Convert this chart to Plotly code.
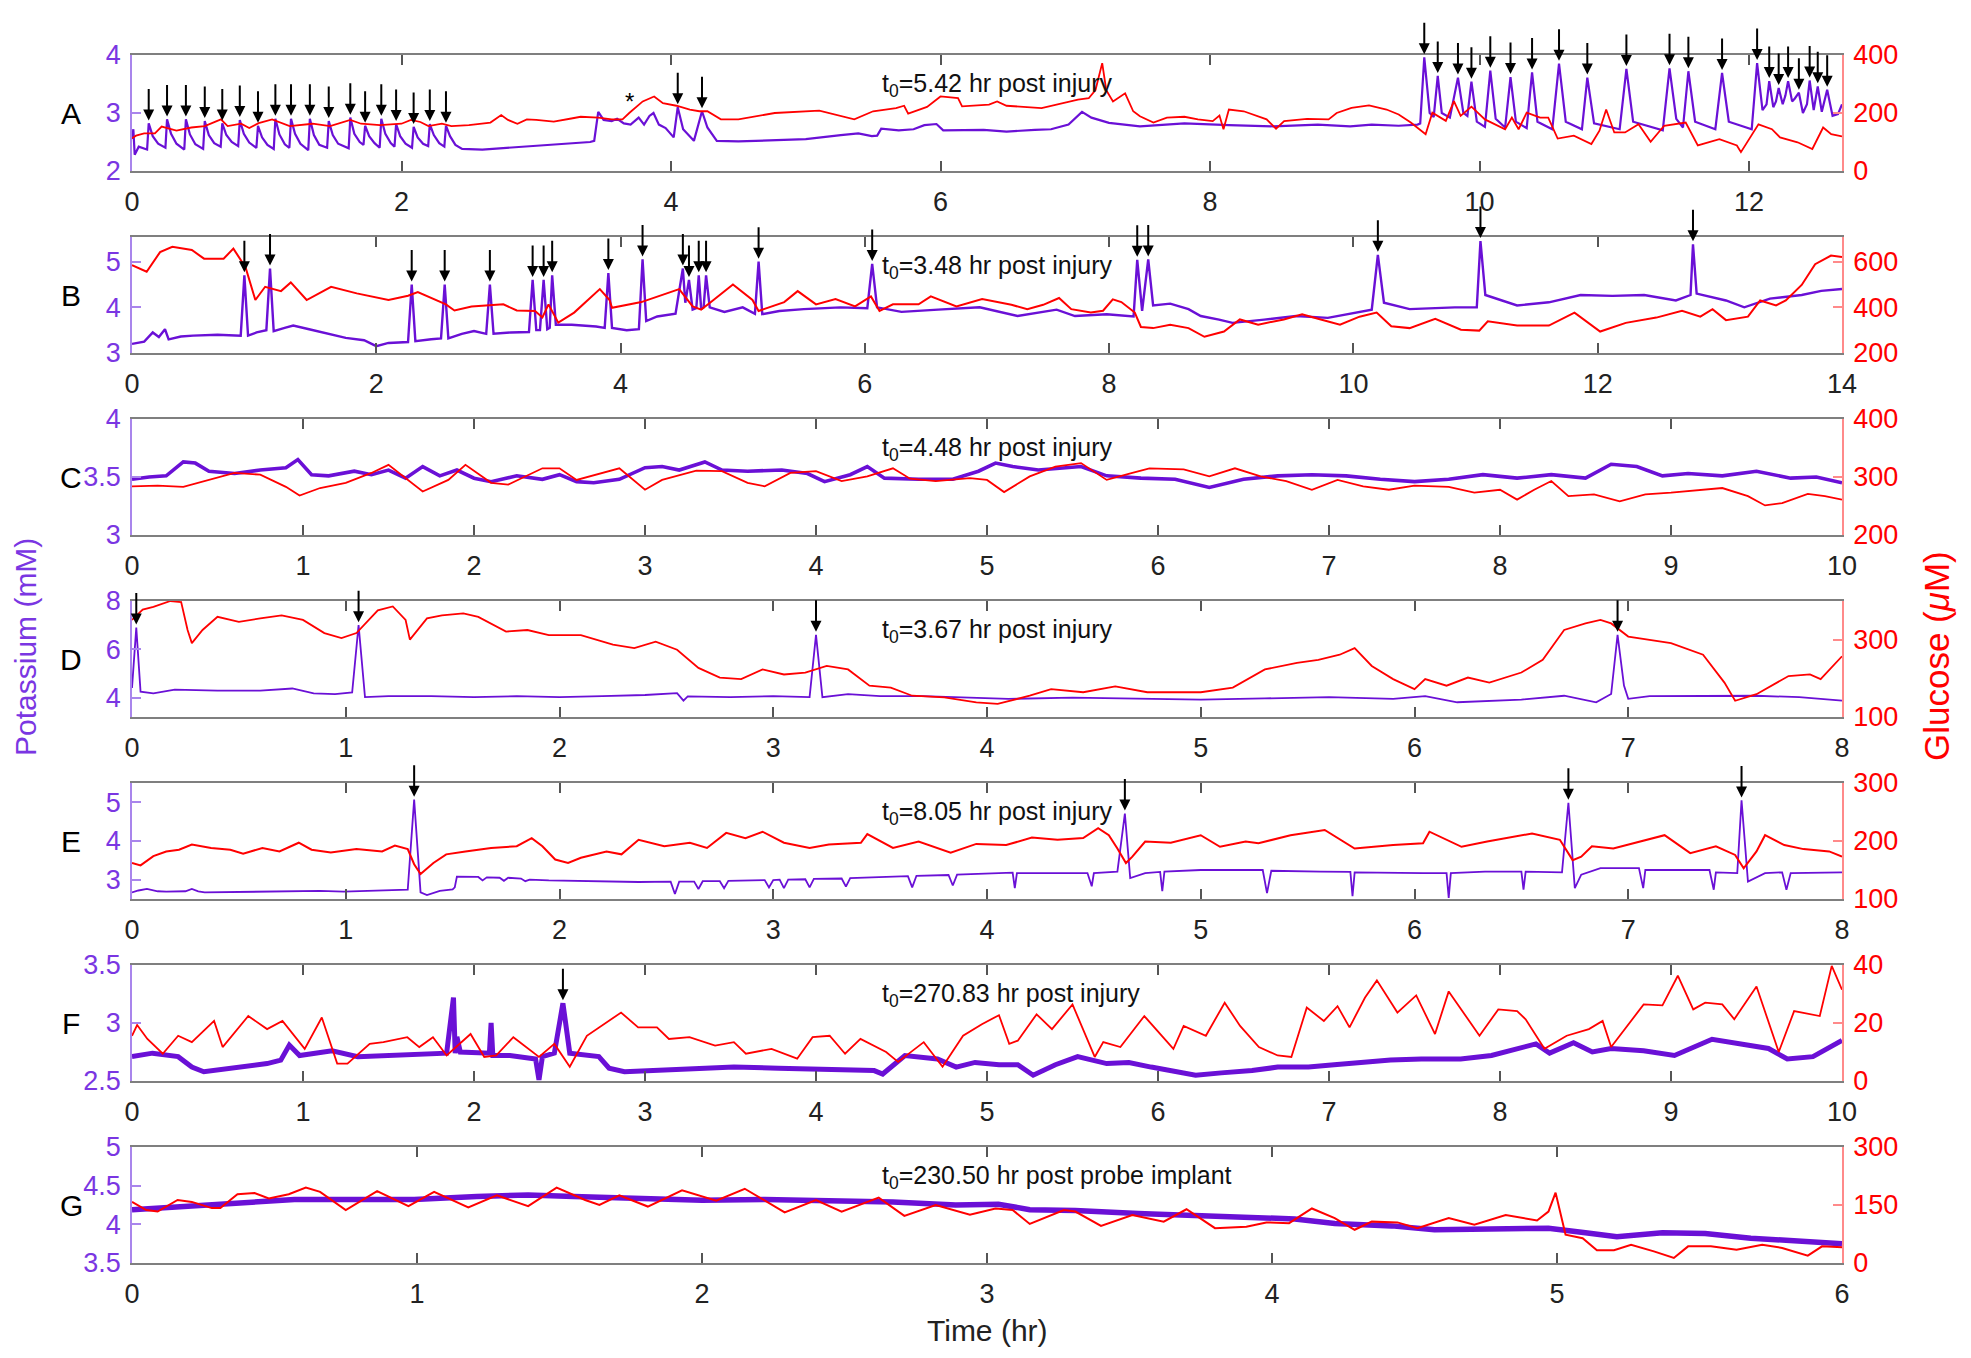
import plotly.graph_objects as go

# ---------------- DATA (hours, potassium mM, glucose uM) ----------------
# Panel A
tA_k = [0.00, 0.01, 0.02, 0.05, 0.10,
        0.112, 0.124, 0.154, 0.194, 0.248, 0.26, 0.29, 0.33,
        0.388, 0.40, 0.43, 0.47, 0.528, 0.54, 0.57, 0.61,
        0.658, 0.67, 0.70, 0.74, 0.788, 0.80, 0.83, 0.87,
        0.923, 0.935, 0.965, 1.005, 1.052, 1.064, 1.094, 1.134,
        1.168, 1.18, 1.21, 1.25, 1.308, 1.32, 1.35, 1.39,
        1.448, 1.46, 1.49, 1.53, 1.608, 1.62, 1.65, 1.69,
        1.718, 1.73, 1.76, 1.80, 1.838, 1.85, 1.88, 1.92,
        1.948, 1.96, 1.99, 2.03, 2.078, 2.09, 2.12, 2.16,
        2.198, 2.21, 2.24, 2.28, 2.318, 2.33, 2.36, 2.40,
        2.45, 2.6, 2.8, 3.0, 3.2, 3.4, 3.43, 3.46, 3.50, 3.56,
        3.60, 3.65, 3.70, 3.76, 3.80, 3.84, 3.87, 3.91, 3.96, 4.02,
        4.05, 4.09, 4.17, 4.23, 4.27, 4.34, 4.5, 4.83, 5.0, 5.26,
        5.39, 5.49, 5.53, 5.56, 5.69, 5.8, 5.88, 5.97, 6.02, 6.32,
        6.49, 6.7, 6.82, 6.95, 7.05, 7.12, 7.25, 7.48, 7.81, 8.14,
        8.47, 8.8, 9.04, 9.2, 9.4, 9.54,
        9.56, 9.59, 9.63, 9.66, 9.69, 9.72, 9.78, 9.84, 9.88, 9.91,
        9.94, 9.98, 10.04, 10.08, 10.12, 10.19, 10.23, 10.27, 10.35, 10.39,
        10.43, 10.54, 10.59, 10.64, 10.76, 10.80, 10.85, 11.04, 11.09, 11.14,
        11.36, 11.41, 11.46, 11.51, 11.55, 11.6, 11.75, 11.80, 11.85, 12.02,
        12.06, 12.10, 12.13, 12.15, 12.18, 12.20, 12.22, 12.25, 12.27, 12.29,
        12.32, 12.34, 12.37, 12.40, 12.43, 12.45, 12.48, 12.51, 12.54, 12.58,
        12.62, 12.66, 12.69]
A_k = [2.55, 2.72, 2.28, 2.42, 2.38,
       2.37, 2.82, 2.60, 2.47, 2.40, 2.89, 2.64, 2.47,
       2.37, 2.89, 2.63, 2.46, 2.38, 2.86, 2.62, 2.48,
       2.42, 2.82, 2.62, 2.50, 2.43, 2.88, 2.64, 2.49,
       2.40, 2.78, 2.58, 2.45, 2.38, 2.90, 2.63, 2.46,
       2.40, 2.90, 2.64, 2.47, 2.36, 2.90, 2.62, 2.45,
       2.40, 2.86, 2.62, 2.47, 2.39, 2.92, 2.64, 2.50,
       2.45, 2.78, 2.60, 2.48, 2.40, 2.90, 2.64, 2.48,
       2.42, 2.81, 2.60, 2.47, 2.40, 2.76, 2.58, 2.47,
       2.43, 2.81, 2.62, 2.48, 2.42, 2.78, 2.60, 2.45,
       2.38, 2.37, 2.40, 2.43, 2.46, 2.50, 2.52, 3.02, 2.88, 2.86,
       2.90, 2.82, 2.80, 2.92, 2.80, 2.95, 3.00, 2.80, 2.74, 2.58,
       3.10, 2.72, 2.52, 3.03, 2.75, 2.52, 2.51, 2.54, 2.55, 2.62,
       2.65, 2.60, 2.61, 2.73, 2.70, 2.72, 2.79, 2.81, 2.70, 2.71,
       2.68, 2.71, 2.72, 2.80, 3.02, 2.92, 2.83, 2.77, 2.82, 2.79,
       2.77, 2.80, 2.77, 2.80, 2.78, 2.80,
       2.82, 3.96, 3.00, 2.93, 3.64, 3.00, 2.92, 3.61, 3.00, 2.95,
       3.54, 2.85, 2.76, 3.73, 2.90, 2.75, 3.62, 2.85, 2.74, 3.70,
       2.85, 2.72, 3.85, 2.85, 2.72, 3.61, 2.82, 2.72, 3.76, 2.85,
       2.70, 3.77, 2.90, 2.75, 3.72, 2.85, 2.72, 3.69, 2.85, 2.72,
       3.86, 3.05, 3.15, 3.55, 3.10, 3.20, 3.43, 3.15, 3.30, 3.55,
       3.20, 3.25, 3.35, 3.00, 3.15, 3.56, 3.05, 3.46, 3.02, 3.40,
       2.95, 2.98, 3.15]
tA_g = [0.00, 0.03, 0.09, 0.17, 0.22, 0.33, 0.44, 0.54, 0.66, 0.71,
        0.81, 0.87, 0.94, 1.04, 1.17, 1.34, 1.47, 1.62, 1.70, 1.84,
        2.00, 2.07, 2.14, 2.20, 2.30, 2.37, 2.50, 2.66, 2.74, 2.79,
        2.86, 2.93, 3.00, 3.13, 3.26, 3.33, 3.46, 3.56, 3.64, 3.69,
        3.79, 3.875, 3.94, 4.04, 4.14, 4.21, 4.27, 4.37, 4.50, 4.77,
        5.10, 5.36, 5.50, 5.67, 5.73, 5.76, 5.90, 6.00, 6.13, 6.16,
        6.36, 6.42, 6.49, 6.75, 7.02, 7.10, 7.15, 7.20, 7.23, 7.28,
        7.37, 7.43, 7.48, 7.58, 7.68, 7.81, 7.91, 8.02, 8.07, 8.10,
        8.14, 8.25, 8.42, 8.49, 8.55, 8.72, 8.88, 8.94, 9.05, 9.18,
        9.31, 9.40, 9.49, 9.60, 9.65, 9.75, 9.81, 9.86, 9.94, 10.04,
        10.19, 10.24, 10.29, 10.35, 10.45, 10.51, 10.58, 10.70, 10.83, 10.89,
        10.94, 11.00, 11.08, 11.18, 11.27, 11.37, 11.53, 11.62, 11.78, 11.91,
        11.94, 11.97, 12.07, 12.17, 12.23, 12.36, 12.47, 12.55, 12.61, 12.69]
A_g = [113, 122, 130, 130, 153, 139, 150, 155, 178, 155,
       163, 148, 165, 178, 155, 163, 155, 176, 163, 158,
       163, 176, 169, 155, 163, 155, 158, 167, 193, 176,
       163, 178, 176, 170, 181, 187, 184, 178, 178, 200,
       240, 257, 234, 225, 212, 206, 206, 178, 178, 200,
       208, 178, 206, 217, 225, 198, 221, 257, 251, 223,
       229, 240, 225, 217, 246, 251, 279, 372, 279, 240,
       268, 206, 189, 167, 184, 187, 178, 172, 191, 144,
       212, 206, 178, 146, 172, 180, 178, 200, 218, 226,
       212, 195, 167, 127, 201, 173, 241, 190, 222, 178,
       144, 184, 144, 201, 184, 184, 112, 122, 93, 139,
       212, 133, 133, 161, 101, 156, 167, 88, 110, 88,
       65, 88, 161, 144, 116, 99, 76, 150, 127, 119]
A_arrows = [0.124, 0.26, 0.40, 0.54, 0.67, 0.80, 0.935, 1.064, 1.18, 1.32,
            1.46, 1.62, 1.73, 1.85, 1.96, 2.09, 2.21, 2.33, 4.05, 4.23,
            9.59, 9.69, 9.84, 9.94, 10.08, 10.23, 10.39, 10.59, 10.80, 11.09,
            11.41, 11.55, 11.80, 12.06, 12.15, 12.22, 12.29, 12.37, 12.45, 12.51, 12.58]

# Panel B
tB_k = [0.00, 0.10, 0.17, 0.22, 0.27, 0.30, 0.40, 0.50, 0.70, 0.89,
        0.92, 0.95, 1.02, 1.10, 1.13, 1.16, 1.25, 1.32, 1.45, 1.60,
        1.75, 1.90, 2.00, 2.10, 2.26, 2.29, 2.32, 2.45, 2.53, 2.56,
        2.59, 2.70, 2.80, 2.90, 2.93, 2.96, 3.10, 3.25, 3.28, 3.31,
        3.34, 3.37, 3.40, 3.42, 3.44, 3.47, 3.60, 3.80, 3.87, 3.90,
        3.93, 4.05, 4.15, 4.18, 4.21, 4.30, 4.45, 4.51, 4.53, 4.56,
        4.59, 4.62, 4.64, 4.66, 4.68, 4.70, 4.73, 4.85, 5.00, 5.10,
        5.13, 5.16, 5.30, 5.50, 5.80, 6.02, 6.06, 6.10, 6.30, 6.60,
        6.94, 7.25, 7.57, 7.72, 7.98, 8.20, 8.23, 8.27, 8.32, 8.36,
        8.50, 8.65, 8.75, 8.90, 9.01, 9.27, 9.53, 9.79, 10.15, 10.20,
        10.25, 10.46, 10.83, 11.01, 11.04, 11.08, 11.34, 11.60, 11.86, 12.12,
        12.38, 12.64, 12.76, 12.78, 12.81, 13.05, 13.20, 13.41, 13.67, 13.83,
        14.00]
B_k = [3.20, 3.25, 3.45, 3.35, 3.52, 3.30, 3.36, 3.38, 3.40, 3.38,
       4.70, 3.38, 3.45, 3.50, 4.85, 3.48, 3.55, 3.60, 3.52, 3.42,
       3.33, 3.28, 3.15, 3.22, 3.24, 4.50, 3.26, 3.30, 3.32, 4.50,
       3.32, 3.42, 3.48, 3.42, 4.50, 3.42, 3.45, 3.46, 4.60, 3.50,
       3.50, 4.60, 3.52, 3.55, 4.70, 3.62, 3.62, 3.58, 3.55, 4.75,
       3.55, 3.50, 3.52, 5.05, 3.70, 3.80, 3.86, 4.85, 4.10, 4.60,
       3.95, 3.98, 4.70, 3.96, 4.00, 4.70, 4.00, 3.90, 4.00, 3.86,
       5.00, 3.85, 3.92, 3.96, 4.00, 3.98, 4.95, 4.00, 3.90, 3.95,
       4.00, 3.81, 3.95, 3.81, 3.85, 3.80, 5.04, 3.92, 5.05, 4.04,
       4.08, 3.96, 3.81, 3.73, 3.66, 3.73, 3.81, 3.77, 3.95, 5.15,
       4.10, 3.96, 4.00, 4.00, 5.45, 4.27, 4.04, 4.11, 4.27, 4.25,
       4.27, 4.15, 4.27, 5.38, 4.30, 4.15, 4.00, 4.19, 4.27, 4.36,
       4.40]
tB_g = [0.00, 0.12, 0.23, 0.33, 0.49, 0.59, 0.75, 0.83, 0.93, 1.01,
        1.09, 1.22, 1.30, 1.43, 1.63, 1.84, 2.10, 2.26, 2.34, 2.57,
        2.64, 2.78, 3.04, 3.15, 3.30, 3.36, 3.41, 3.49, 3.62, 3.83,
        3.91, 3.93, 4.17, 4.38, 4.48, 4.59, 4.66, 4.74, 4.92, 5.08,
        5.13, 5.34, 5.45, 5.60, 5.76, 5.92, 6.05, 6.12, 6.23, 6.44,
        6.54, 6.75, 6.96, 7.20, 7.33, 7.46, 7.59, 7.69, 7.85, 7.95,
        8.03, 8.10, 8.21, 8.26, 8.36, 8.50, 8.65, 8.78, 8.94, 9.07,
        9.22, 9.43, 9.58, 9.71, 9.89, 10.05, 10.19, 10.31, 10.46, 10.67,
        10.88, 11.03, 11.10, 11.34, 11.60, 11.81, 12.02, 12.23, 12.48, 12.69,
        12.84, 12.94, 13.05, 13.23, 13.33, 13.46, 13.54, 13.67, 13.78, 13.91,
        14.00]
B_g = [585, 556, 642, 665, 651, 613, 613, 657, 575, 432,
       490, 471, 509, 432, 490, 461, 432, 451, 467, 413,
       386, 404, 413, 386, 384, 356, 413, 333, 377, 480,
       432, 398, 423, 461, 480, 404, 390, 423, 500, 432,
       384, 423, 471, 413, 436, 404, 448, 384, 413, 413,
       448, 404, 436, 411, 392, 411, 441, 392, 377, 385,
       435, 423, 377, 314, 309, 324, 309, 271, 294, 347,
       324, 347, 370, 350, 324, 359, 377, 317, 309, 350,
       302, 298, 339, 320, 320, 377, 294, 332, 355, 385,
       359, 392, 344, 359, 430, 408, 430, 498, 589, 627,
       620]
B_arrows = [0.92, 1.13, 2.29, 2.56, 2.93, 3.28, 3.37, 3.44, 3.90, 4.18,
            4.51, 4.56, 4.64, 4.70, 5.13, 6.06, 8.23, 8.32, 10.20, 11.04, 12.78]

# Panel C
tC_k = [0.00, 0.10, 0.20, 0.30, 0.37, 0.45, 0.60, 0.75, 0.90, 0.97,
        1.05, 1.15, 1.30, 1.40, 1.50, 1.60, 1.70, 1.80, 1.90, 2.00,
        2.10, 2.25, 2.40, 2.50, 2.60, 2.70, 2.85, 3.00, 3.10, 3.20,
        3.35, 3.45, 3.60, 3.80, 3.95, 4.05, 4.20, 4.30, 4.40, 4.60,
        4.80, 4.95, 5.05, 5.15, 5.30, 5.45, 5.55, 5.70, 5.90, 6.10,
        6.30, 6.50, 6.70, 6.90, 7.10, 7.30, 7.50, 7.70, 7.90, 8.10,
        8.30, 8.50, 8.65, 8.80, 8.95, 9.10, 9.30, 9.50, 9.70, 9.85,
        10.00]
C_k = [3.48, 3.50, 3.51, 3.63, 3.62, 3.55, 3.53, 3.56, 3.58, 3.65,
       3.52, 3.51, 3.55, 3.52, 3.56, 3.49, 3.59, 3.51, 3.56, 3.49,
       3.46, 3.51, 3.48, 3.52, 3.46, 3.45, 3.48, 3.58, 3.59, 3.56,
       3.63, 3.56, 3.55, 3.56, 3.53, 3.46, 3.52, 3.59, 3.49, 3.48,
       3.48, 3.55, 3.62, 3.59, 3.56, 3.58, 3.59, 3.51, 3.49, 3.48,
       3.41, 3.48, 3.51, 3.52, 3.51, 3.48, 3.46, 3.48, 3.52, 3.49,
       3.52, 3.49, 3.61, 3.59, 3.51, 3.53, 3.51, 3.55, 3.49, 3.50,
       3.45]
tC_g = [0.00, 0.15, 0.30, 0.45, 0.60, 0.75, 0.90, 0.98, 1.10, 1.25,
        1.40, 1.50, 1.60, 1.70, 1.85, 1.95, 2.10, 2.20, 2.40, 2.50,
        2.60, 2.75, 2.85, 3.00, 3.10, 3.30, 3.45, 3.60, 3.70, 3.85,
        4.00, 4.15, 4.30, 4.45, 4.55, 4.70, 4.90, 5.00, 5.10, 5.25,
        5.40, 5.55, 5.70, 5.85, 5.95, 6.15, 6.30, 6.45, 6.60, 6.75,
        6.90, 7.05, 7.20, 7.35, 7.50, 7.70, 7.85, 8.00, 8.10, 8.20,
        8.30, 8.40, 8.55, 8.70, 8.85, 9.00, 9.15, 9.30, 9.45, 9.55,
        9.65, 9.80, 9.90, 10.00]
C_g = [284, 285, 283, 295, 307, 304, 283, 268, 281, 290,
       307, 321, 298, 275, 295, 321, 290, 287, 315, 315,
       295, 307, 315, 278, 295, 311, 310, 290, 284, 307,
       310, 293, 301, 315, 297, 293, 298, 295, 274, 301,
       318, 324, 295, 307, 315, 313, 301, 315, 301, 293,
       278, 295, 284, 278, 285, 283, 273, 278, 261, 278,
       293, 267, 270, 258, 270, 273, 277, 281, 267, 251,
       255, 271, 267, 261]

# Panel D
tD_k = [0.00, 0.02, 0.04, 0.10, 0.20, 0.40, 0.60, 0.75, 0.85, 0.95,
        1.03, 1.06, 1.09, 1.20, 1.40, 1.60, 1.80, 2.00, 2.20, 2.40,
        2.55, 2.58, 2.60, 2.80, 3.00, 3.17, 3.20, 3.23, 3.35, 3.50,
        3.70, 3.90, 4.10, 4.40, 4.70, 5.00, 5.30, 5.60, 5.90, 6.05,
        6.20, 6.50, 6.70, 6.85, 6.92, 6.95, 6.98, 7.00, 7.10, 7.30,
        7.60, 7.80, 8.00]
D_k = [4.40, 6.90, 4.25, 4.18, 4.33, 4.29, 4.29, 4.38, 4.18, 4.15,
       4.22, 7.00, 4.02, 4.06, 4.06, 4.02, 4.06, 4.02, 4.06, 4.11,
       4.19, 3.88, 4.05, 4.02, 4.06, 4.02, 6.60, 4.02, 4.15, 4.06,
       4.06, 4.02, 3.95, 4.00, 3.95, 3.92, 3.97, 4.02, 3.95, 4.06,
       3.81, 3.92, 4.08, 3.81, 4.15, 6.60, 4.50, 3.95, 4.06, 4.06,
       4.08, 4.02, 3.88]
tD_g = [0.00, 0.05, 0.10, 0.18, 0.23, 0.26, 0.28, 0.33, 0.40, 0.50,
        0.60, 0.70, 0.80, 0.90, 0.98, 1.05, 1.15, 1.22, 1.28, 1.30,
        1.38, 1.45, 1.55, 1.62, 1.75, 1.85, 1.95, 2.10, 2.25, 2.35,
        2.45, 2.55, 2.65, 2.75, 2.85, 2.95, 3.05, 3.15, 3.25, 3.35,
        3.45, 3.55, 3.65, 3.80, 3.95, 4.05, 4.20, 4.30, 4.45, 4.60,
        4.75, 5.00, 5.15, 5.30, 5.45, 5.55, 5.65, 5.72, 5.80, 5.90,
        6.00, 6.05, 6.15, 6.25, 6.35, 6.50, 6.60, 6.70, 6.80, 6.87,
        6.92, 7.00, 7.20, 7.35, 7.45, 7.50, 7.60, 7.75, 7.85, 7.90,
        8.00]
D_g = [351, 378, 385, 400, 397, 325, 291, 325, 359, 346,
       355, 363, 351, 317, 304, 317, 376, 386, 351, 300,
       355, 363, 368, 359, 321, 325, 312, 312, 287, 278,
       295, 274, 227, 202, 198, 223, 210, 215, 232, 223,
       181, 176, 155, 151, 138, 134, 155, 172, 164, 179,
       164, 164, 176, 223, 240, 248, 261, 278, 232, 198,
       172, 198, 181, 202, 189, 215, 248, 325, 342, 351,
       342, 308, 291, 261, 189, 142, 159, 206, 210, 198,
       257]
D_arrows = [0.02, 1.06, 3.20, 6.95]

# Panel E
tE_k = [0.00, 0.03, 0.07, 0.12, 0.16, 0.25, 0.28, 0.31, 0.34, 0.45,
        0.58, 0.75, 0.88, 0.99, 1.17, 1.29, 1.32, 1.35, 1.38, 1.44,
        1.50, 1.51, 1.52, 1.62, 1.64, 1.66, 1.72, 1.74, 1.76, 1.82,
        1.84, 1.86, 1.95, 2.07, 2.20, 2.37, 2.52, 2.54, 2.56, 2.63,
        2.65, 2.67, 2.75, 2.77, 2.79, 2.96, 2.98, 3.00, 3.03, 3.05,
        3.07, 3.15, 3.17, 3.19, 3.32, 3.34, 3.36, 3.56, 3.63, 3.65,
        3.67, 3.82, 3.84, 3.86, 3.97, 4.09, 4.12, 4.13, 4.14, 4.47,
        4.49, 4.50, 4.61, 4.645, 4.67, 4.74, 4.81, 4.82, 4.83, 5.00,
        5.29, 5.31, 5.33, 5.56, 5.70, 5.71, 5.72, 6.04, 6.15, 6.16,
        6.17, 6.33, 6.50, 6.51, 6.52, 6.69, 6.72, 6.75, 6.78, 6.87,
        7.05, 7.07, 7.08, 7.38, 7.40, 7.41, 7.51, 7.53, 7.56, 7.64,
        7.72, 7.74, 7.76, 8.00]
E_k = [2.67, 2.72, 2.76, 2.70, 2.69, 2.70, 2.76, 2.70, 2.67, 2.68,
       2.69, 2.70, 2.71, 2.69, 2.71, 2.74, 5.07, 2.67, 2.60, 2.71,
       2.75, 2.80, 3.08, 3.07, 2.98, 3.06, 3.05, 2.97, 3.05, 3.03,
       2.96, 3.00, 2.98, 2.97, 2.96, 2.94, 2.95, 2.63, 2.95, 2.95,
       2.76, 2.96, 2.96, 2.78, 2.97, 2.99, 2.80, 2.99, 3.00, 2.78,
       3.00, 3.01, 2.80, 3.02, 3.03, 2.82, 3.04, 3.08, 3.09, 2.80,
       3.10, 3.12, 2.85, 3.13, 3.15, 3.19, 3.18, 2.78, 3.17, 3.17,
       2.83, 3.17, 3.21, 4.71, 3.04, 3.17, 3.20, 2.70, 3.21, 3.25,
       3.25, 2.65, 3.23, 3.21, 3.20, 2.57, 3.19, 3.17, 3.17, 2.53,
       3.17, 3.21, 3.21, 2.74, 3.21, 3.19, 4.99, 2.78, 3.13, 3.30,
       3.30, 2.78, 3.25, 3.25, 2.74, 3.19, 3.17, 5.05, 2.95, 3.17,
       3.19, 2.74, 3.17, 3.19]
tE_g = [0.00, 0.04, 0.10, 0.16, 0.22, 0.28, 0.37, 0.46, 0.52, 0.61,
        0.69, 0.78, 0.84, 0.93, 1.05, 1.17, 1.23, 1.29, 1.32, 1.35,
        1.41, 1.47, 1.56, 1.68, 1.80, 1.87, 1.92, 1.98, 2.04, 2.10,
        2.22, 2.29, 2.37, 2.49, 2.61, 2.69, 2.78, 2.87, 2.95, 3.05,
        3.17, 3.26, 3.41, 3.44, 3.56, 3.68, 3.83, 3.95, 4.09, 4.21,
        4.33, 4.45, 4.52, 4.57, 4.61, 4.65, 4.68, 4.74, 4.86, 5.00,
        5.09, 5.21, 5.27, 5.42, 5.58, 5.72, 5.90, 6.04, 6.07, 6.22,
        6.34, 6.55, 6.68, 6.74, 6.78, 6.83, 6.93, 6.99, 7.17, 7.29,
        7.41, 7.50, 7.54, 7.60, 7.64, 7.73, 7.82, 7.94, 8.00]
E_g = [162, 158, 174, 182, 185, 194, 188, 185, 178, 188,
       182, 197, 185, 180, 186, 182, 192, 186, 160, 143,
       162, 177, 182, 188, 191, 205, 191, 168, 162, 171,
       182, 177, 202, 191, 197, 188, 214, 205, 216, 197,
       188, 194, 197, 212, 188, 199, 180, 195, 193, 206,
       202, 205, 222, 210, 187, 162, 173, 199, 197, 210,
       190, 199, 196, 210, 219, 187, 193, 196, 216, 190,
       199, 213, 202, 167, 173, 191, 187, 193, 210, 179,
       191, 176, 153, 182, 210, 193, 186, 182, 173]
E_arrows = [1.32, 4.645, 6.72, 7.53]

# Panel F
tF_k = [0.00, 0.12, 0.27, 0.35, 0.42, 0.57, 0.79, 0.87, 0.92, 0.98,
        1.09, 1.17, 1.32, 1.61, 1.84, 1.88, 1.89, 1.90, 1.92, 2.09,
        2.10, 2.11, 2.21, 2.36, 2.38, 2.40, 2.47, 2.52, 2.56, 2.73,
        2.79, 2.88, 3.14, 3.33, 3.52, 3.78, 4.08, 4.34, 4.39, 4.52,
        4.71, 4.82, 4.93, 5.07, 5.18, 5.27, 5.40, 5.53, 5.70, 5.83,
        5.96, 6.07, 6.22, 6.37, 6.55, 6.70, 6.88, 7.03, 7.17, 7.36,
        7.54, 7.77, 7.95, 8.10, 8.21, 8.29, 8.43, 8.54, 8.65, 8.84,
        9.02, 9.24, 9.39, 9.57, 9.68, 9.83, 10.00]
F_k = [2.71, 2.74, 2.71, 2.62, 2.58, 2.61, 2.65, 2.68, 2.81, 2.72,
       2.74, 2.76, 2.71, 2.73, 2.74, 3.22, 2.74, 2.88, 2.75, 2.74,
       3.00, 2.72, 2.72, 2.69, 2.51, 2.71, 2.74, 3.17, 2.74, 2.71,
       2.61, 2.58, 2.60, 2.61, 2.62, 2.61, 2.60, 2.59, 2.56, 2.72,
       2.69, 2.62, 2.66, 2.64, 2.64, 2.55, 2.64, 2.71, 2.65, 2.66,
       2.62, 2.59, 2.55, 2.57, 2.59, 2.62, 2.62, 2.64, 2.66, 2.68,
       2.69, 2.69, 2.72, 2.78, 2.82, 2.74, 2.83, 2.75, 2.78, 2.76,
       2.72, 2.86, 2.82, 2.78, 2.69, 2.71, 2.85]
tF_g = [0.00, 0.03, 0.09, 0.18, 0.27, 0.35, 0.48, 0.53, 0.68, 0.79,
        0.88, 1.01, 1.11, 1.20, 1.26, 1.39, 1.47, 1.61, 1.68, 1.76,
        1.84, 1.98, 2.06, 2.13, 2.23, 2.38, 2.47, 2.56, 2.66, 2.86,
        2.96, 3.07, 3.14, 3.26, 3.41, 3.52, 3.59, 3.74, 3.89, 3.98,
        4.08, 4.17, 4.26, 4.41, 4.48, 4.63, 4.74, 4.86, 4.97, 5.07,
        5.13, 5.18, 5.29, 5.38, 5.50, 5.63, 5.68, 5.78, 5.92, 6.09,
        6.15, 6.28, 6.39, 6.48, 6.59, 6.70, 6.78, 6.87, 6.97, 7.05,
        7.12, 7.21, 7.28, 7.40, 7.51, 7.62, 7.70, 7.88, 7.99, 8.10,
        8.15, 8.26, 8.39, 8.52, 8.60, 8.65, 8.84, 8.95, 9.04, 9.13,
        9.20, 9.30, 9.37, 9.50, 9.63, 9.72, 9.87, 9.94, 10.00]
F_g = [15.6, 19.3, 14.5, 9.4, 15.6, 13.4, 20.7, 11.7, 22.4, 17.9,
       20.7, 11.1, 21.9, 6.0, 6.0, 12.8, 13.4, 15.1, 11.7, 15.1,
       8.8, 16.2, 8.3, 8.8, 15.1, 8.3, 12.8, 4.9, 15.6, 23.6,
       18.5, 18.5, 14.5, 15.1, 12.2, 13.4, 9.4, 11.1, 7.7, 15.1,
       15.6, 9.4, 14.5, 10.0, 6.6, 13.4, 4.9, 15.6, 19.6, 22.7,
       12.8, 13.9, 23.0, 17.9, 26.4, 8.3, 13.4, 11.7, 22.4, 11.1,
       19.0, 15.6, 27.0, 19.0, 11.7, 8.8, 8.3, 25.3, 20.7, 25.8,
       18.5, 28.7, 34.7, 23.6, 29.5, 16.2, 30.9, 15.6, 24.7, 24.1,
       21.3, 11.1, 15.6, 17.9, 20.7, 11.7, 26.4, 26.1, 36.3, 24.7,
       27.0, 26.4, 21.3, 32.6, 10.0, 24.1, 22.4, 39.7, 31.5]
F_arrows = [2.52]

# Panel G
tG_k = [0.00, 0.12, 0.28, 0.43, 0.57, 0.77, 0.99, 1.21, 1.39, 1.55,
        1.77, 2.00, 2.22, 2.45, 2.67, 2.89, 3.04, 3.15, 3.31, 3.53,
        3.75, 3.93, 4.08, 4.22, 4.42, 4.57, 4.75, 4.97, 5.10, 5.21,
        5.37, 5.52, 5.68, 5.86, 6.00]
G_k = [4.19, 4.22, 4.26, 4.29, 4.32, 4.32, 4.32, 4.36, 4.38, 4.36,
       4.33, 4.31, 4.32, 4.31, 4.29, 4.25, 4.26, 4.19, 4.18, 4.14,
       4.11, 4.09, 4.07, 4.01, 3.98, 3.93, 3.94, 3.95, 3.89, 3.84,
       3.89, 3.88, 3.82, 3.78, 3.75]
tG_g = [0.00, 0.05, 0.09, 0.16, 0.21, 0.28, 0.31, 0.37, 0.43, 0.48,
        0.55, 0.61, 0.66, 0.75, 0.86, 0.97, 1.06, 1.18, 1.28, 1.39,
        1.49, 1.59, 1.64, 1.71, 1.81, 1.93, 2.05, 2.15, 2.29, 2.40,
        2.49, 2.62, 2.71, 2.82, 2.94, 3.03, 3.09, 3.15, 3.27, 3.31,
        3.40, 3.51, 3.62, 3.70, 3.80, 3.91, 3.98, 4.06, 4.14, 4.22,
        4.29, 4.35, 4.44, 4.51, 4.62, 4.71, 4.82, 4.93, 4.97, 4.995,
        5.03, 5.09, 5.14, 5.20, 5.26, 5.34, 5.41, 5.46, 5.54, 5.63,
        5.72, 5.79, 5.88, 5.93, 6.00]
G_g = [158, 137, 133, 163, 158, 142, 142, 178, 181, 167,
       178, 195, 184, 137, 186, 147, 184, 144, 175, 147,
       195, 163, 150, 175, 146, 188, 161, 192, 131, 163,
       133, 169, 122, 150, 125, 141, 137, 101, 137, 133,
       96, 124, 107, 139, 90, 94, 105, 103, 141, 116,
       86, 107, 105, 90, 116, 99, 124, 110, 133, 182,
       73, 64, 33, 33, 47, 30, 13, 43, 43, 34,
       47, 39, 19, 43, 41]

PANEL_LETTERS = ["A", "B", "C", "D", "E", "F", "G"]
T0_TEXT = ["t<sub>0</sub>=5.42 hr post injury",
           "t<sub>0</sub>=3.48 hr post injury",
           "t<sub>0</sub>=4.48 hr post injury",
           "t<sub>0</sub>=3.67 hr post injury",
           "t<sub>0</sub>=8.05 hr post injury",
           "t<sub>0</sub>=270.83 hr post injury",
           "t<sub>0</sub>=230.50 hr post probe implant"]
X_RANGES = [[0, 12.69], [0, 14], [0, 10], [0, 8], [0, 8], [0, 10], [0, 6]]
X_TICKS = [[0, 2, 4, 6, 8, 10, 12], [0, 2, 4, 6, 8, 10, 12, 14],
           list(range(0, 11)), list(range(0, 9)), list(range(0, 9)),
           list(range(0, 11)), list(range(0, 7))]
K_RANGES = [[2, 4], [3, 5.54], [3, 4], [3.2, 8], [2.5, 5.5], [2.5, 3.5], [3.5, 5]]
K_TICKS = [[2, 3, 4], [3, 4, 5], [3, 3.5, 4], [4, 6, 8], [3, 4, 5], [2.5, 3, 3.5],
           [3.5, 4, 4.5, 5]]
G_RANGES = [[0, 400], [200, 708], [200, 400], [100, 400], [100, 300], [0, 40], [0, 300]]
G_TICKS = [[0, 200, 400], [200, 400, 600], [200, 300, 400], [100, 300],
           [100, 200, 300], [0, 20, 40], [0, 150, 300]]

# ---------------- STYLE ----------------
W, H = 1971, 1358
OFF = 8  # page body margin added by the browser
PX_L, PX_R = 132 - OFF, 1842 - OFF
PANEL_TOP0, PANEL_STEP, PANEL_H = 55 - OFF, 182, 116
PURPLE = "#6a10d6"
PURPLE_TXT = "#7a36e2"
PURPLE_AX = "#a985ec"
RED = "#ff0000"
RED_AX = "#ff8a8a"
GREY = "#7f7f7f"
NARROW = "Liberation Sans Narrow, Arial Narrow, Liberation Sans, Arial"
REG = "Liberation Sans, Arial"
K_WIDTH = [2.2, 2.4, 3.6, 1.8, 1.8, 5.0, 5.5]
G_WIDTH = [1.8, 2.0, 1.8, 1.8, 2.0, 1.8, 2.0]

series = [(tA_k, A_k, tA_g, A_g, A_arrows),
          (tB_k, B_k, tB_g, B_g, B_arrows),
          (tC_k, C_k, tC_g, C_g, []),
          (tD_k, D_k, tD_g, D_g, D_arrows),
          (tE_k, E_k, tE_g, E_g, E_arrows),
          (tF_k, F_k, tF_g, F_g, F_arrows),
          (tG_k, G_k, tG_g, G_g, [])]


def axid(letter, num):
    return letter if num == 1 else f"{letter}{num}"


fig = go.Figure()
annotations = []
layout = {}
xdom = [PX_L / W, PX_R / W]

for i, (tk, k, tg, g, arrows) in enumerate(series):
    n = i + 1
    yl, yr = 2 * i + 1, 2 * i + 2
    xs, yls, yrs = axid("x", n), axid("y", yl), axid("y", yr)
    top = PANEL_TOP0 + PANEL_STEP * i
    bot = top + PANEL_H
    ydom = [1 - bot / H, 1 - top / H]

    fig.add_trace(go.Scatter(x=tk, y=k, mode="lines", xaxis=xs, yaxis=yls,
                             line=dict(color=PURPLE, width=K_WIDTH[i]), hoverinfo="skip"))
    fig.add_trace(go.Scatter(x=tg, y=g, mode="lines", xaxis=xs, yaxis=yrs,
                             line=dict(color=RED, width=G_WIDTH[i]), hoverinfo="skip"))

    layout["xaxis" if n == 1 else f"xaxis{n}"] = dict(
        domain=xdom, range=X_RANGES[i], tickvals=X_TICKS[i], automargin=False,
        anchor=yls, showline=True, linecolor=GREY, linewidth=2,
        mirror="ticks", ticks="inside", ticklen=10, tickwidth=1.5,
        tickcolor="#555555", showgrid=False, zeroline=False,
        tickfont=dict(family=NARROW, size=27, color="#222222"),
        ticklabelstandoff=6)
    layout["yaxis" if yl == 1 else f"yaxis{yl}"] = dict(
        domain=ydom, range=K_RANGES[i], tickvals=K_TICKS[i], automargin=False,
        anchor=xs, showline=True, linecolor=PURPLE_AX, linewidth=1.5,
        ticks="inside", ticklen=9, tickwidth=1.5, tickcolor=PURPLE_AX,
        showgrid=False, zeroline=False,
        tickfont=dict(family=NARROW, size=27, color=PURPLE_TXT),
        ticklabelstandoff=4)
    layout[f"yaxis{yr}"] = dict(
        overlaying=yls, side="right", anchor=xs, automargin=False,
        range=G_RANGES[i], tickvals=G_TICKS[i], showline=True,
        linecolor=RED_AX, linewidth=1.5, ticks="inside", ticklen=9,
        tickwidth=1.5, tickcolor=RED_AX, showgrid=False, zeroline=False,
        tickfont=dict(family=NARROW, size=27, color=RED),
        ticklabelstandoff=4)

    annotations.append(dict(text=PANEL_LETTERS[i], xref="paper", x=(71 - OFF) / W,
                            yref=f"{yls} domain", y=0.5, xanchor="center", yanchor="middle",
                            showarrow=False, font=dict(family=REG, size=30, color="black")))
    annotations.append(dict(text=T0_TEXT[i], xref=f"{xs} domain",
                            x=(880 - OFF - PX_L) / (PX_R - PX_L),
                            yref=f"{yls} domain", y=0.74, xanchor="left", yanchor="middle",
                            showarrow=False, font=dict(family=NARROW, size=25, color="#111111")))
    for ta in arrows:
        peak = max(v for t, v in zip(tk, k) if abs(t - ta) <= 0.012)
        annotations.append(dict(text="", x=ta, y=peak, xref=xs, yref=yls,
                                showarrow=True, arrowhead=2, arrowsize=1.1, arrowwidth=2,
                                arrowcolor="black", ax=0, ay=-36, standoff=3))

annotations.append(dict(text="*", x=3.69, y=3.2, xref="x", yref="y", showarrow=False,
                        font=dict(family=REG, size=24, color="black")))
annotations.append(dict(text="Potassium (mM)", xref="paper", yref="paper", x=(25 - OFF) / W,
                        y=1 - (647 - OFF) / H, xanchor="center", yanchor="middle",
                        textangle=-90, showarrow=False,
                        font=dict(family=REG, size=30, color=PURPLE_TXT)))
annotations.append(dict(text="Glucose (<i>μ</i>M)", xref="paper", yref="paper",
                        x=(1936 - OFF) / W, y=1 - (656 - OFF) / H,
                        xanchor="center", yanchor="middle", textangle=-90, showarrow=False,
                        font=dict(family=REG, size=35, color=RED)))
annotations.append(dict(text="Time (hr)", xref="paper", yref="paper", x=(987 - OFF) / W,
                        y=1 - (1330 - OFF) / H, xanchor="center", yanchor="middle",
                        showarrow=False, font=dict(family=REG, size=30, color="#222222")))

fig.update_layout(width=W, height=H, margin=dict(l=0, r=0, t=0, b=0, autoexpand=False),
                  paper_bgcolor="white", plot_bgcolor="white", showlegend=False,
                  annotations=annotations, **layout)

fig.write_html("out.html")
